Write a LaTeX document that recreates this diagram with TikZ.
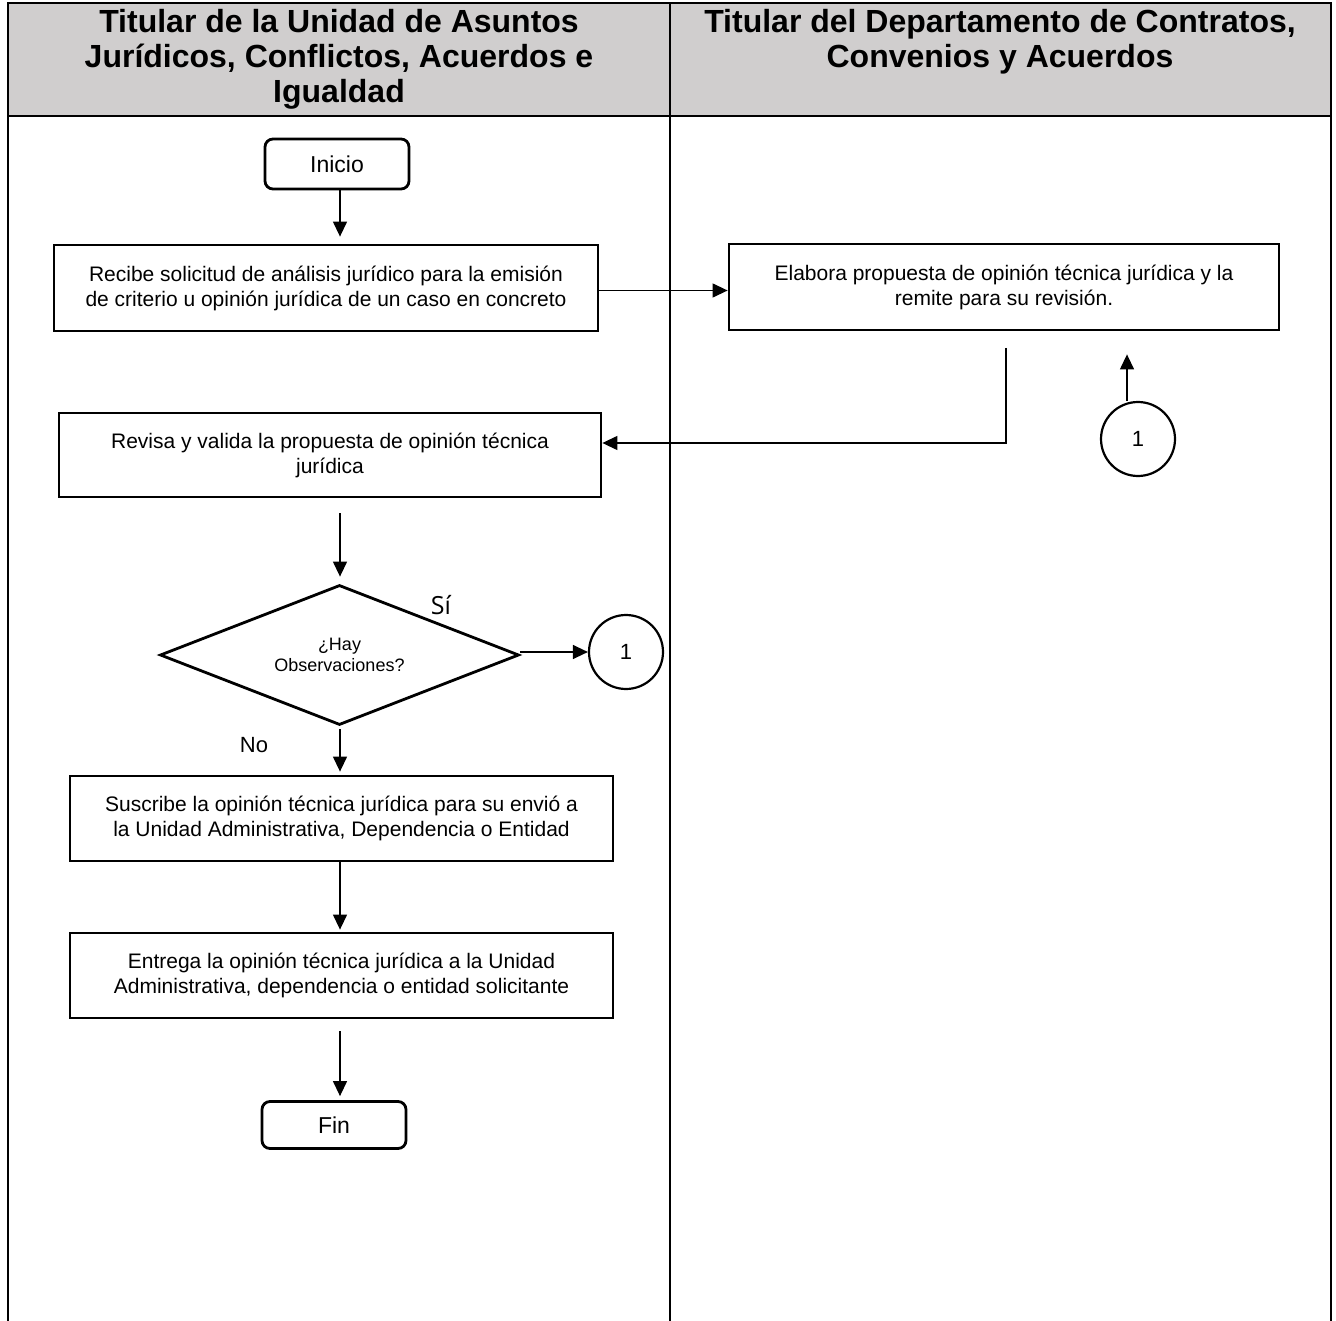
\documentclass[tikz,border=0pt]{standalone}
\usepackage{fontspec}
\setmainfont{Liberation Sans}
\newfontfamily\opensans{Open Sans}
\usetikzlibrary{shapes.geometric,arrows.meta}
\definecolor{hdr}{RGB}{208,206,206}
\begin{document}
\begin{tikzpicture}[x=1pt,y=-1pt,
  frame/.style={line width=2.5pt},
  procbox/.style={draw, line width=2.8pt, rectangle, inner sep=0pt, align=center, font=\fontsize{21}{25}\selectfont},
  term/.style={draw, line width=2.8pt, rounded corners=8pt, inner sep=0pt, minimum width=144pt, font=\fontsize{23}{27}\selectfont},
  conn/.style={draw, circle, line width=2.2pt, minimum size=74pt, inner sep=0pt, font=\fontsize{22}{26}\selectfont},
  decision/.style={draw, diamond, line width=2.8pt, shape aspect=2.56, minimum width=359pt, minimum height=140pt, inner sep=0pt, align=center, font=\fontsize{18}{21}\selectfont},
  arr/.style={line width=1.3pt, -{Triangle[width=14pt,length=15pt]}},
  hdrtext/.style={font=\bfseries\fontsize{32}{35}\selectfont, align=center, inner sep=0pt},
  lbl/.style={inner sep=0pt, font=\fontsize{22}{26}\selectfont}]
\useasboundingbox (0,0) rectangle (1336,1321);
% lanes
\fill[hdr] (8,3) rectangle (1331,116);
\draw[frame] (8,1321) -- (8,3) -- (1331,3) -- (1331,1321);
\draw[frame] (8,116) -- (1331,116);
\draw[frame] (670,3) -- (670,1321);
\node[hdrtext] (h1) at (339,59) {Titular de la Unidad de Asuntos\\Jurídicos, Conflictos, Acuerdos e\\Igualdad};
\node[hdrtext] (h2) at (1000,42) {Titular del Departamento de Contratos,\\Convenios y Acuerdos};
% nodes
\node[term, minimum height=50pt] (inicio) at (337,164) {Inicio};
\node[procbox, minimum width=544pt, minimum height=86pt] (b1) at (326,288) {Recibe solicitud de análisis jurídico para la emisión\\de criterio u opinión jurídica de un caso en concreto};
\node[procbox, minimum width=550pt, minimum height=86pt] (b2) at (1004,287) {Elabora propuesta de opinión técnica jurídica y la\\remite para su revisión.};
\node[procbox, minimum width=542pt, minimum height=84pt] (b3) at (330,455) {Revisa y valida la propuesta de opinión técnica\\jurídica};
\node[conn] (c1) at (1138,439) {1};
\node[decision] (d) at (339.5,655) {¿Hay\\Observaciones?};
\node[conn] (c2) at (626,652) {1};
\node[lbl, font=\opensans\fontsize{25}{29}\selectfont] (si) at (441,605) {Sí};
\node[lbl] (no) at (254,745) {No};
\node[procbox, minimum width=543pt, minimum height=85pt] (b4) at (341.5,818.5) {Suscribe la opinión técnica jurídica para su envió a\\la Unidad Administrativa, Dependencia o Entidad};
\node[procbox, minimum width=543pt, minimum height=85pt] (b5) at (341.5,975.5) {Entrega la opinión técnica jurídica a la Unidad\\Administrativa, dependencia o entidad solicitante};
\node[term, minimum height=47pt] (fin) at (334,1125) {Fin};
% helper coordinates
\coordinate (xv) at (340,0);
\coordinate (x1) at (1127,0);
\coordinate (p1) at (1006,348);
% connectors
\draw[arr, shorten >=7pt] (inicio.south -| xv) -- (b1.north -| xv);
\draw[arr] ([yshift=-2.5pt]b1.east) -- ([yshift=-2.5pt]b1.east -| b2.west);
\draw[arr] (p1) |- ([yshift=12pt]b3.east);
\draw[arr, shorten >=23pt] (c1.north -| x1) -- (b2.south -| x1);
\draw[arr, shorten <=15pt, shorten >=7pt] (b3.south -| xv) -- (d.north -| xv);
\draw[arr] ([yshift=3pt]d.east) -- ([yshift=3pt]d.east -| c2.west);
\draw[arr, shorten <=3pt, shorten >=3pt] (d.south -| xv) -- (b4.north -| xv);
\draw[arr, shorten >=2pt] (b4.south -| xv) -- (b5.north -| xv);
\draw[arr, shorten <=12pt, shorten >=4pt] (b5.south -| xv) -- (fin.north -| xv);
\end{tikzpicture}
\end{document}
